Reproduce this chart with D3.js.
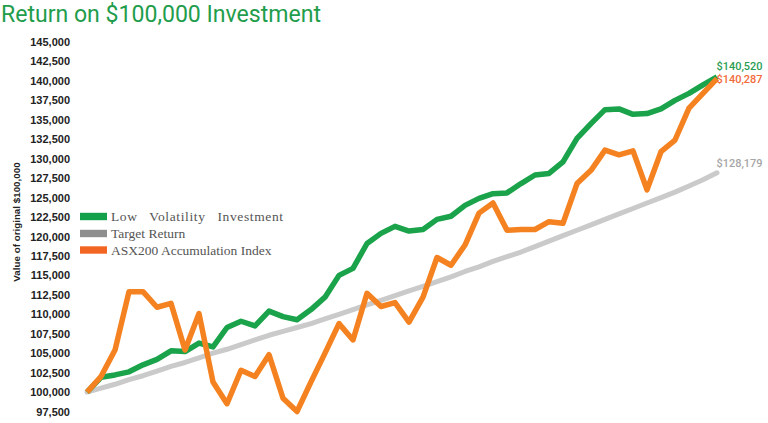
<!DOCTYPE html>
<html><head><meta charset="utf-8">
<script src="https://cdn.jsdelivr.net/npm/d3@7"></script>
<style>html,body{margin:0;padding:0;background:#fff;}svg{display:block;}</style>
</head><body>
<svg id="chart" width="768" height="423"></svg>
<script>
const periods = d3.range(46);
const lowVol = [100000,101900,102200,102600,103500,104200,105300,105200,106300,105800,108300,109100,108500,110400,109700,109300,110600,112200,115000,115900,119100,120400,121300,120700,120900,122200,122600,124000,124900,125500,125600,126800,127900,128100,129600,132600,134500,136300,136400,135700,135800,136400,137500,138400,139500,140520];
const target = [100000,100500,101000,101600,102100,102700,103300,103800,104400,105000,105500,106100,106700,107300,107800,108300,108800,109400,110000,110600,111200,111800,112400,113000,113600,114200,114800,115500,116100,116800,117400,118000,118700,119400,120100,120800,121500,122200,122900,123600,124300,125000,125700,126500,127300,128179];
const asx200 = [100000,102000,105400,112900,112900,110900,111400,105400,110100,101300,98500,102800,102000,104800,99200,97500,101300,105000,108800,106700,112700,111000,111500,109000,112200,117300,116300,118900,123000,124300,120800,120900,120900,121900,121700,126800,128500,131100,130500,131000,126000,130900,132400,136500,138400,140287];
const yTicks = [97500,100000,102500,105000,107500,110000,112500,115000,117500,120000,122500,125000,127500,130000,132500,135000,137500,140000,142500,145000];
const seriesNames = ["Low   Volatility   Investment","Target Return","ASX200 Accumulation Index"];
const endLabels = ["$140,520","$128,179","$140,287"];

const svg = d3.select("#chart");
const x = d3.scaleLinear().domain([0,45]).range([87,717]);
const y = d3.scaleLinear().domain([97500,145000]).range([411.5,42]);

svg.append("text").attr("x",1).attr("y",22)
  .attr("font-family","Roboto, 'Open Sans', sans-serif").attr("font-size",23)
  .attr("fill","#1f9d4c").attr("textLength",320).attr("lengthAdjust","spacingAndGlyphs")
  .text("Return on $100,000 Investment");

const yAxis = d3.axisLeft(y).tickValues(yTicks).tickSize(0).tickPadding(0)
  .tickFormat(d3.format(","));
const gy = svg.append("g").attr("transform","translate(70,0)").call(yAxis);
gy.select(".domain").remove();
gy.selectAll("text").attr("font-family","'Liberation Sans', Arial, sans-serif")
  .attr("font-size",11).attr("font-weight","bold").attr("fill","#222");

svg.append("text").attr("transform","translate(19.5,222) rotate(-90)")
  .attr("text-anchor","middle").attr("font-family","'Liberation Sans', Arial, sans-serif")
  .attr("font-size",9.8).attr("font-weight","bold").attr("fill","#222")
  .text("Value of original $100,000");

const line = d3.line().x((d,i)=>x(periods[i])).y(d=>y(d)).curve(d3.curveLinear);
const colors = ["#1aa34a","#cacaca","#f58220"];
const data = [lowVol,target,asx200];
[1,0,2].forEach(k=>{
  svg.append("path").datum(data[k]).attr("d",line).attr("fill","none")
    .attr("stroke",colors[k]).attr("stroke-width",k===1?5:5.5)
    .attr("stroke-linejoin","round").attr("stroke-linecap",k===1?"round":"butt");
});

const legColors = ["#13a04a","#8e8e8e","#f26522"];
const legY = [216.5,233.5,250];
seriesNames.forEach((n,i)=>{
  svg.append("rect").attr("x",80).attr("y",legY[i]-3.7).attr("width",27).attr("height",7.4).attr("fill",legColors[i]);
  const t = svg.append("text").attr("x",111).attr("y",legY[i]+4.5)
    .attr("font-family","'Liberation Serif', 'DejaVu Serif', serif").attr("font-size",13.5)
    .attr("fill","#555").attr("xml:space","preserve").text(n);
  if(i===0){ t.attr("textLength",172).attr("lengthAdjust","spacing"); }
});

const endY = [70, 166.5, 83];
const endCol = ["#2a9d55","#a6a6a6","#f26a3a"];
endLabels.forEach((l,i)=>{
  svg.append("text").attr("x",716.5).attr("y",endY[i])
    .attr("font-family","Roboto, 'Open Sans', sans-serif").attr("font-size",11.5).attr("font-weight",500)
    .attr("fill",endCol[i]).attr("textLength",46).attr("lengthAdjust","spacingAndGlyphs").text(l);
});
</script>
</body></html>
